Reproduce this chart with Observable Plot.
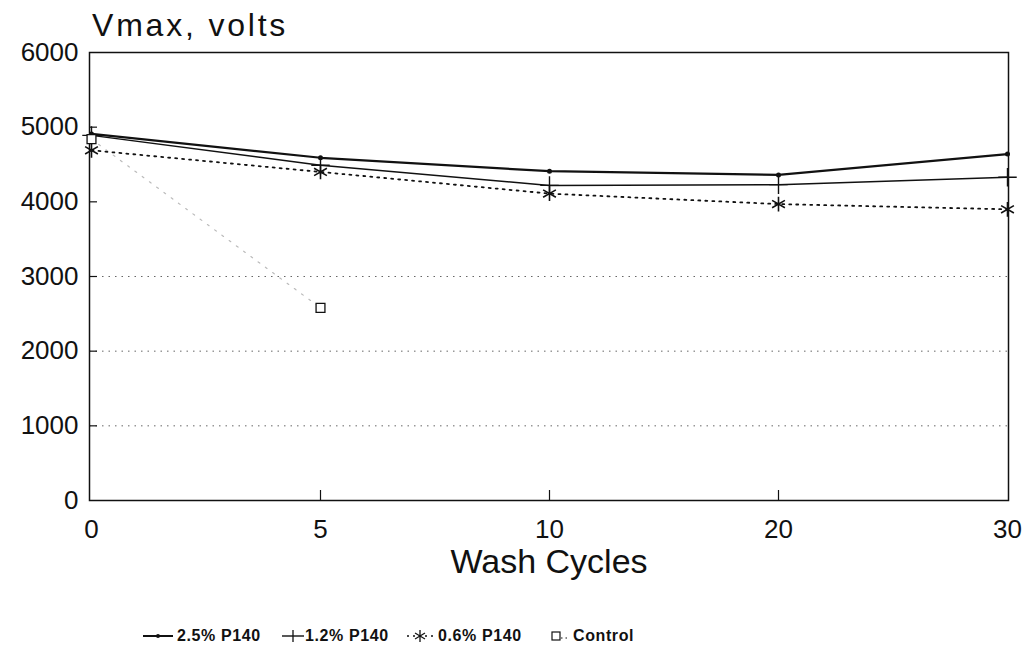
<!DOCTYPE html>
<html><head><meta charset="utf-8">
<script src="https://cdn.jsdelivr.net/npm/d3@7"></script>
<script src="https://cdn.jsdelivr.net/npm/@observablehq/plot@0.6"></script>
<style>
body{margin:0;background:#fff;font-family:"Liberation Sans",Arial,sans-serif;color:#111}
#title{position:relative;z-index:2;height:20px;padding-left:92px;font-size:32px;line-height:50px;letter-spacing:2.8px;overflow:visible;white-space:nowrap}
#chart{position:relative;z-index:1}
#legend{position:relative;height:43px;font-size:16px;font-weight:bold;letter-spacing:0.6px}
#legend .it{position:absolute;top:16px;line-height:20px;white-space:nowrap}
#legend svg{position:absolute;top:16px}
</style>
</head><body>
<div id="title">Vmax, volts</div>
<div id="chart"></div>
<div id="legend"></div>
<script>
const cycles = ["0", "5", "10", "20", "30"];
const p25 = [4910, 4590, 4410, 4360, 4640];
const p12 = [4890, 4490, 4220, 4230, 4330];
const p06 = [4690, 4400, 4110, 3970, 3900];
const controlCycles = ["0", "5"];
const control = [4840, 2580];
const yTicks = [0, 1000, 2000, 3000, 4000, 5000, 6000];
const gridTicks = [1000, 2000, 3000];
const seriesNames = ["2.5% P140", "1.2% P140", "0.6% P140", "Control"];

const rows = (xs, vs, s) => xs.map((c, i) => ({cycle: c, v: vs[i], series: s}));
const d25 = rows(cycles, p25, seriesNames[0]);
const d12 = rows(cycles, p12, seriesNames[1]);
const d06 = rows(cycles, p06, seriesNames[2]);
const dC = rows(controlCycles, control, seriesNames[3]);

const font = '"Liberation Sans", Arial, sans-serif';
const chart = Plot.plot({
  width: 1026,
  height: 590,
  marginTop: 32,
  marginLeft: 89,
  marginRight: 18,
  marginBottom: 110,
  style: {fontFamily: font, color: "#111", background: "transparent", overflow: "visible"},
  x: {type: "point", domain: cycles, padding: 0},
  y: {domain: [0, 6000]},
  marks: [
    Plot.ruleY(gridTicks, {stroke: "#666", strokeWidth: 1, strokeDasharray: "1.5,5"}),
    Plot.frame({stroke: "#111", strokeWidth: 1.5}),
    Plot.axisY({ticks: yTicks, tickSize: 0, tickPadding: 11, fontSize: 26, tickFormat: d => String(d), label: null, style: {letterSpacing: "2.5px"}}),
    Plot.axisY({ticks: yTicks.slice(1, -1), tickSize: 8, tickFormat: () => "", dx: 8, label: null, stroke: "#111", strokeWidth: 1.2}),
    Plot.axisX({ticks: cycles, tickSize: 0, tickPadding: 19, fontSize: 26, label: null, style: {letterSpacing: "1px"}}),
    Plot.axisX({ticks: cycles.slice(1, -1), tickSize: 10, tickFormat: () => "", dy: -10, label: null, stroke: "#111", strokeWidth: 1.2}),
    Plot.text(["Wash Cycles"], {frameAnchor: "bottom", dy: 72, fontSize: 34, fill: "#111", style: {letterSpacing: "1.6px"}}),
    Plot.line(dC, {x: "cycle", y: "v", stroke: "#bbb", strokeWidth: 1.2, strokeDasharray: "2,7"}),
    Plot.line(d06, {x: "cycle", y: "v", stroke: "#111", strokeWidth: 1.8, strokeDasharray: "2,5"}),
    Plot.line(d12, {x: "cycle", y: "v", stroke: "#111", strokeWidth: 1.5}),
    Plot.line(d25, {x: "cycle", y: "v", stroke: "#111", strokeWidth: 2.2}),
    Plot.dot(d25, {x: "cycle", y: "v", r: 2.5, fill: "#111"}),
    Plot.dot(d12, {x: "cycle", y: "v", r: 6, symbol: "plus", stroke: "#111", strokeWidth: 1.4}),
    Plot.dot(d06, {x: "cycle", y: "v", r: 7, symbol: "asterisk", stroke: "#111", strokeWidth: 1.6}),
    Plot.dot(dC, {x: "cycle", y: "v", r: 5, symbol: "square", stroke: "#111", fill: "#fff", strokeWidth: 1.3})
  ]
});
document.getElementById("chart").appendChild(chart);

const legend = document.getElementById("legend");
const items = [
  {left: 143, w: 30, text: 177, svg: '<line x1="0" y1="10" x2="30" y2="10" stroke="#111" stroke-width="2"/><circle cx="15" cy="10" r="2" fill="#111"/>'},
  {left: 282, w: 22, text: 305, svg: '<line x1="0" y1="10" x2="22" y2="10" stroke="#111" stroke-width="1.4"/><line x1="11" y1="4" x2="11" y2="16" stroke="#111" stroke-width="1.3"/>'},
  {left: 407, w: 26, text: 438, svg: '<line x1="0" y1="10" x2="26" y2="10" stroke="#111" stroke-width="1.6" stroke-dasharray="2,4"/><g stroke="#111" stroke-width="1.3"><line x1="13" y1="4" x2="13" y2="16"/><line x1="8" y1="7" x2="18" y2="13"/><line x1="8" y1="13" x2="18" y2="7"/></g>'},
  {left: 550, w: 20, text: 573, svg: '<rect x="2" y="6" width="8" height="8" fill="#fff" stroke="#111" stroke-width="1.2"/><line x1="11" y1="12" x2="20" y2="12" stroke="#111" stroke-width="1.2" stroke-dasharray="1.5,3"/>'}
];
items.forEach((it, i) => {
  legend.insertAdjacentHTML("beforeend",
    `<svg width="${it.w}" height="20" style="left:${it.left}px">${it.svg}</svg><span class="it" style="left:${it.text}px">${seriesNames[i]}</span>`);
});
</script>
</body></html>
